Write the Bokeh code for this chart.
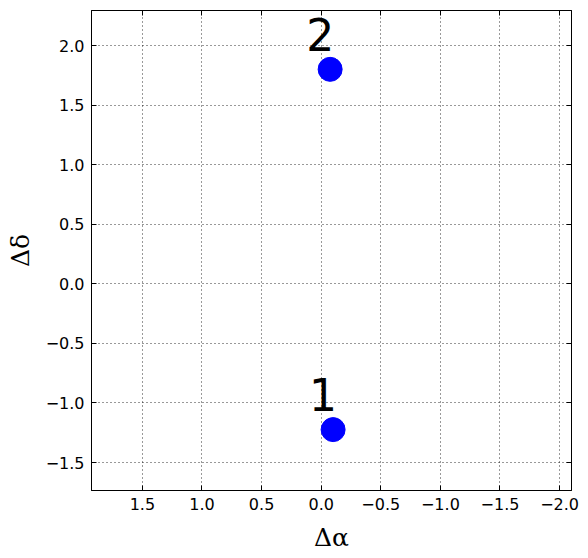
from bokeh.plotting import figure
from bokeh.models import LinearAxis, CustomJSTickFormatter, Range1d, FixedTicker, ColumnDataSource, Grid
from bokeh.core.properties import value
from bokeh.embed import file_html
from bokeh.resources import INLINE

# data
d_alpha = [-0.10, -0.075]
d_delta = [-1.224, 1.80]
labels = ["1", "2"]
x_ticks = [1.5, 1.0, 0.5, 0.0, -0.5, -1.0, -1.5, -2.0]
y_ticks = [-1.5, -1.0, -0.5, 0.0, 0.5, 1.0, 1.5, 2.0]

src = ColumnDataSource(dict(x=d_alpha, y=d_delta, t=labels))

p = figure(frame_width=480, frame_height=480,
           min_border_left=91, min_border_right=17, min_border_top=10, min_border_bottom=68,
           x_range=Range1d(1.927, -2.10), y_range=Range1d(-1.735, 2.294),
           output_backend="svg", toolbar_location=None,
           x_axis_location=None, y_axis_location=None)

fmt = CustomJSTickFormatter(code="return tick.toFixed(1).replace('-', '\u2212');")
blank = CustomJSTickFormatter(code="return '';")

def style_axis(ax, ticks, show_labels):
    ax.ticker = FixedTicker(ticks=ticks)
    ax.major_tick_in = 5
    ax.major_tick_out = 0
    ax.minor_tick_line_color = None
    ax.major_tick_line_color = "black"
    ax.major_tick_line_width = 1
    ax.axis_line_color = "black"
    ax.axis_line_width = 1
    if show_labels:
        ax.formatter = fmt
        ax.major_label_text_font = "DejaVu Sans"
        ax.major_label_text_font_size = "16px"
        ax.major_label_text_color = "black"
        ax.major_label_standoff = 7
        ax.axis_label_text_font = "DejaVu Serif"
        ax.axis_label_text_font_size = "25px"
        ax.axis_label_text_font_style = "normal"
        ax.axis_label_text_color = "black"
    else:
        ax.formatter = blank
        ax.major_label_standoff = 0
        ax.axis_label = None

xb = LinearAxis(axis_label="Δα")
style_axis(xb, x_ticks, True)
xb.axis_label_standoff = 10
yl = LinearAxis(axis_label="Δδ")
style_axis(yl, y_ticks, True)
yl.axis_label_standoff = 8
xt = LinearAxis()
style_axis(xt, x_ticks, False)
yr = LinearAxis()
style_axis(yr, y_ticks, False)

p.add_layout(xb, "below")
p.add_layout(yl, "left")
p.add_layout(xt, "above")
p.add_layout(yr, "right")

p.xgrid.visible = False
p.ygrid.visible = False
gx = Grid(dimension=0, ticker=FixedTicker(ticks=x_ticks), grid_line_color="black",
          grid_line_dash="1 3", grid_line_width=1, grid_line_alpha=0.8)
gy = Grid(dimension=1, ticker=FixedTicker(ticks=y_ticks), grid_line_color="black",
          grid_line_dash="1 3", grid_line_width=1, grid_line_alpha=0.8)
p.add_layout(gx)
p.add_layout(gy)

p.outline_line_color = "black"
p.outline_line_width = 1
p.outline_line_alpha = 1

p.scatter("x", "y", source=src, size=24, color="#0000ff", line_color="#0000ff")
p.text("x", "y", text="t", source=src, x_offset=-10, y_offset=-35,
       text_align="center", text_baseline="alphabetic",
       text_font=value("DejaVu Sans"), text_font_size="44px", text_color="black")

open("out.html", "w").write(file_html(p, INLINE))
